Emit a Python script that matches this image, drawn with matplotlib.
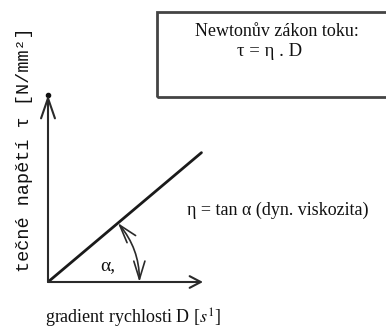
import numpy as np
import matplotlib
matplotlib.use('Agg')
import matplotlib.pyplot as plt
from matplotlib.patches import Rectangle

# Newtonuv zakon toku - primka tau = eta * D
gradient_D = [0, 9.9]
tecne_napeti = [0, 8.3]
D_max = 10.0
tau_max = 12.0
r_uhlu = 5.9   # polomer oblouku uhlu alfa

W, H = 386, 332
fig = plt.figure(figsize=(W / 100, H / 100), dpi=100)

def px(x, y):
    # pixely -> souradnice obrazku
    return x / W, 1 - y / H

serif = 'Liberation Serif'
mono = 'Liberation Mono'
plt.rcParams['mathtext.fontset'] = 'stix'

ax = fig.add_axes([48 / W, 50 / H, 155 / W, 187 / H])
ax.set_xlim(0, D_max)
ax.set_ylim(0, tau_max)
ax.axis('off')

barva = '#2a2a2a'

# osy se sipkami
ax.annotate('', xy=(D_max, 0), xytext=(0, 0),
            arrowprops=dict(arrowstyle='->,head_length=0.8,head_width=0.42',
                            lw=1.5, color=barva, shrinkA=0, shrinkB=0))
ax.annotate('', xy=(0, tau_max), xytext=(0, 0),
            arrowprops=dict(arrowstyle='->,head_length=1.45,head_width=0.5',
                            lw=1.5, color=barva, shrinkA=0, shrinkB=0))
ax.plot([0], [tau_max], 'o', ms=3, color='#111', clip_on=False)

# primka
ax.plot(gradient_D, tecne_napeti, color='#1a1a1a', lw=2, solid_capstyle='round')

# oblouk uhlu alfa
sx, sy = 15.5, 187 / tau_max
alfa = np.arctan2(tecne_napeti[1] * sy, gradient_D[1] * sx)
r_px = r_uhlu * sx
start = (r_px * np.cos(alfa) / sx, r_px * np.sin(alfa) / sy)
ax.annotate('', xy=(r_uhlu, 0), xytext=start,
            arrowprops=dict(arrowstyle='<->,head_length=1.3,head_width=0.4',
                            connectionstyle='arc3,rad=-0.18',
                            lw=1.2, color=barva, shrinkA=0, shrinkB=0))

# ramecek s rovnici
fig.patches.append(Rectangle(px(157, 97), 260 / W, 85 / H, transform=fig.transFigure,
                             fill=False, lw=2, ec='#444'))
fig.text(*px(277, 31), 'Newtonův zákon toku:', family=serif, fontsize=13,
         ha='center', va='center', color='#111')
fig.text(*px(270, 52), 'τ = η . D', family=serif, fontsize=13.5,
         ha='center', va='center', color='#111')

fig.text(*px(187, 210), 'η = tan α (dyn. viskozita)', family=serif, fontsize=13,
         ha='left', va='center', color='#111')
fig.text(*px(108, 266), 'α,', family=serif, fontsize=14,
         ha='center', va='center', color='#111')

fig.text(*px(45, 318), r'gradient rychlosti D [$s^1$]', family=serif, fontsize=13,
         ha='left', va='center', color='#111')
fig.text(*px(25, 150), 'tečné napětí τ [N/mm²]', family=mono, fontsize=13.3,
         rotation=90, ha='center', va='center', color='#111')

fig.savefig('out.png', dpi=100)
